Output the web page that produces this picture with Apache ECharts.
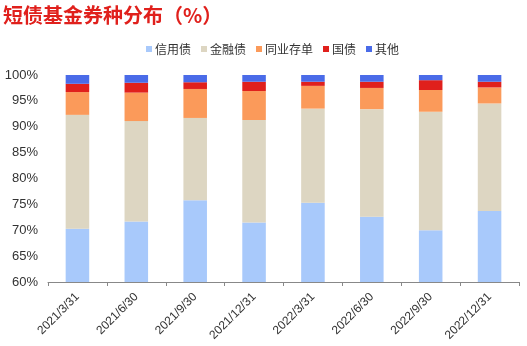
<!DOCTYPE html>
<html><head><meta charset="utf-8">
<script src="https://cdn.jsdelivr.net/npm/echarts@6/dist/echarts.min.js"></script>
<style>html,body{margin:0;padding:0;background:#fff}#c{width:527px;height:346px}</style>
</head><body><div id="c"></div>
<script>
const categories = ['2021/3/31','2021/6/30','2021/9/30','2021/12/31','2022/3/31','2022/6/30','2022/9/30','2022/12/31'];
const credit = [70.3, 71.7, 75.8, 71.5, 75.3, 72.6, 70.0, 73.7];
const financial = [22.0, 19.4, 15.9, 19.8, 18.2, 20.8, 22.9, 20.8];
const ncd = [4.4, 5.5, 5.6, 5.6, 4.4, 4.1, 4.2, 3.1];
const govt = [1.6, 1.9, 1.3, 1.8, 0.8, 1.2, 1.9, 1.1];
const other = [1.7, 1.5, 1.4, 1.3, 1.3, 1.3, 1.0, 1.3];
const seriesNames = ['信用债','金融债','同业存单','国债','其他'];
const colors = ['#a8c9fb','#ddd6c2','#fb9a5a','#e0201c','#4a6be8'];
const yTicks = [60,65,70,75,80,85,90,95,100];

const dataSets = [credit, financial, ncd, govt, other];
const chart = echarts.init(document.getElementById('c'));
chart.setOption({
  animation:false,
  title:{text:'短债基金券种分布（%）',left:-2,top:0,textStyle:{color:'#e0201c',fontSize:20,fontWeight:'bold',fontFamily:'Noto Sans CJK SC'}},
  legend:{data:seriesNames,left:141,top:38,itemWidth:6,itemHeight:6,itemGap:10,icon:'rect',
    textStyle:{fontSize:12,color:'#333',fontFamily:'Noto Sans CJK SC',padding:[0,0,0,-2]}},
  grid:{left:48,right:8,top:75,bottom:64},
  xAxis:{type:'category',data:categories,
    axisLine:{lineStyle:{color:'#888'}},
    axisTick:{show:true,length:4,lineStyle:{color:'#888'}},
    axisLabel:{rotate:45,fontSize:12,color:'#333',fontFamily:'Liberation Sans',margin:13,interval:0}},
  yAxis:{type:'value',min:60,max:100,interval:5,
    axisLine:{show:false},axisTick:{show:false},splitLine:{show:false},
    axisLabel:{formatter:v=>v+'%',fontSize:13,color:'#333',fontFamily:'Liberation Sans',margin:10}},
  series: seriesNames.map((n,i)=>({name:n,type:'bar',stack:'a',barWidth:'40%',
    itemStyle:{color:colors[i]},data:dataSets[i]}))
});
</script></body></html>
